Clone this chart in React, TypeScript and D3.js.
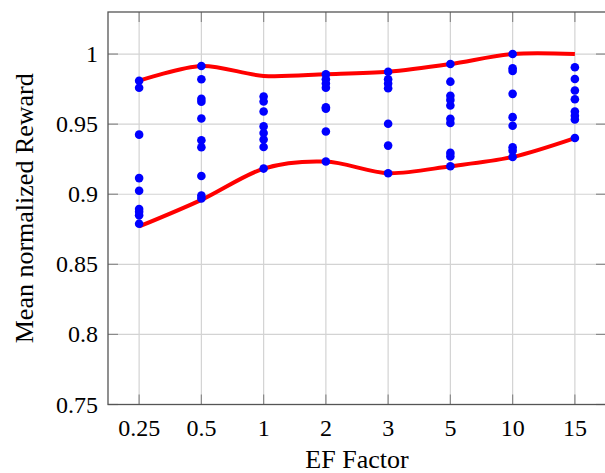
import React from "react";
import * as d3 from "d3";

const categories = ["0.25", "0.5", "1", "2", "3", "5", "10", "15"];
const yTicks = [0.75, 0.8, 0.85, 0.9, 0.95, 1];
const yTickLabels = ["0.75", "0.8", "0.85", "0.9", "0.95", "1"];

const points025 = [0.981, 0.976, 0.9425, 0.9115, 0.9025, 0.8895, 0.8875, 0.885, 0.879];
const points05 = [0.9915, 0.982, 0.968, 0.966, 0.954, 0.9385, 0.9335, 0.913, 0.899, 0.897];
const points1 = [0.9697, 0.9661, 0.959, 0.9484, 0.9437, 0.939, 0.9337, 0.9183];
const points2 = [0.9856, 0.982, 0.979, 0.976, 0.962, 0.961, 0.9448, 0.9233];
const points3 = [0.9874, 0.982, 0.979, 0.9756, 0.9503, 0.9347, 0.915];
const points5 = [0.9929, 0.9803, 0.9702, 0.9673, 0.9633, 0.9538, 0.9508, 0.9295, 0.927, 0.92];
const points10 = [1.0, 0.9898, 0.988, 0.9716, 0.955, 0.9489, 0.9335, 0.9311, 0.9266];
const points15 = [0.9906, 0.9822, 0.974, 0.9678, 0.959, 0.956, 0.9533, 0.9401];
const pointsByCategory = [points025, points05, points1, points2, points3, points5, points10, points15];

const upperEnvelope = [0.981, 0.9915, 0.9844, 0.9856, 0.9874, 0.9929, 1.0, 1.0];
const lowerEnvelope = [0.877, 0.896, 0.9183, 0.9233, 0.915, 0.92, 0.9266, 0.9401];

const W = 605;
const H = 473;
const M = { left: 108, right: 606, top: 12, bottom: 404.5 };
const FONT = "'Liberation Serif', 'DejaVu Serif', serif";

export default function App() {
  const x = d3.scalePoint<string>().domain(categories).range([M.left, M.right]).padding(0.5);
  const y = d3.scaleLinear().domain([0.75, 1.03]).range([M.bottom, M.top]);
  const line = d3
    .line<number>()
    .x((_, i) => x(categories[i]) as number)
    .y((d) => y(d))
    .curve(d3.curveCardinal.tension(0.1));

  const grid = "#d3d3d3";
  const tickCol = "#8a8a8a";
  const frame = "#555";
  const tl = 10;

  return (
    <svg
      width={W}
      height={H}
      style={{ position: "absolute", left: 0, top: 0, background: "#fff" }}
      fontFamily={FONT}
    >
      {/* grid */}
      {categories.map((c) => (
        <line key={"gx" + c} x1={x(c)} x2={x(c)} y1={M.top} y2={M.bottom} stroke={grid} strokeWidth={1.2} />
      ))}
      {yTicks.map((t) => (
        <line key={"gy" + t} x1={M.left} x2={M.right} y1={y(t)} y2={y(t)} stroke={grid} strokeWidth={1.2} />
      ))}
      {/* tick marks */}
      {categories.map((c) => (
        <g key={"tx" + c}>
          <line x1={x(c)} x2={x(c)} y1={M.bottom} y2={M.bottom - tl} stroke={tickCol} strokeWidth={1.2} />
          <line x1={x(c)} x2={x(c)} y1={M.top} y2={M.top + tl} stroke={tickCol} strokeWidth={1.2} />
        </g>
      ))}
      {yTicks.map((t) => (
        <g key={"ty" + t}>
          <line x1={M.left} x2={M.left + tl} y1={y(t)} y2={y(t)} stroke={tickCol} strokeWidth={1.2} />
          <line x1={M.right} x2={M.right - tl} y1={y(t)} y2={y(t)} stroke={tickCol} strokeWidth={1.2} />
        </g>
      ))}
      {/* envelopes */}
      <path d={line(upperEnvelope) || ""} fill="none" stroke="#ff0000" strokeWidth={4} />
      <path d={line(lowerEnvelope) || ""} fill="none" stroke="#ff0000" strokeWidth={4} />
      {/* points */}
      {pointsByCategory.map((pts, i) =>
        pts.map((v, j) => (
          <circle key={"p" + i + "-" + j} cx={x(categories[i])} cy={y(v)} r={4.3} fill="#0000ff" />
        ))
      )}
      {/* frame */}
      <rect x={M.left} y={M.top} width={M.right - M.left} height={M.bottom - M.top} fill="none" stroke={frame} strokeWidth={1.3} />
      {/* tick labels */}
      {categories.map((c) => (
        <text key={"lx" + c} x={x(c)} y={M.bottom + 31} textAnchor="middle" fontSize={24} fill="#000">
          {c}
        </text>
      ))}
      {yTicks.map((t, i) => (
        <text key={"ly" + t} x={M.left - 10} y={y(t) + 8} textAnchor="end" fontSize={24} fill="#000">
          {yTickLabels[i]}
        </text>
      ))}
      {/* axis labels */}
      <text x={(M.left + M.right) / 2} y={468} textAnchor="middle" fontSize={26} fill="#000">
        EF Factor
      </text>
      <text
        transform={`translate(33, ${(M.top + M.bottom) / 2}) rotate(-90)`}
        textAnchor="middle"
        fontSize={26}
        fill="#000"
      >
        Mean normalized Reward
      </text>
    </svg>
  );
}
